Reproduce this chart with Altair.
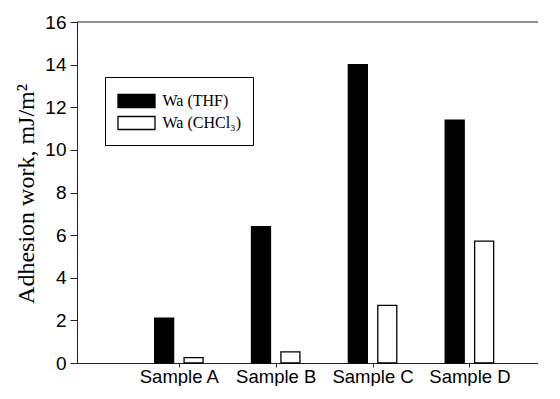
import altair as alt
import pandas as pd

samples = ["Sample A", "Sample B", "Sample C", "Sample D"]
wa_thf = [2.1, 6.4, 14.0, 11.4]
wa_chcl3 = [0.25, 0.52, 2.7, 5.72]
series = ["Wa (THF)", "Wa (CHCl\u2083)"]
y_ticks = [0, 2, 4, 6, 8, 10, 12, 14, 16]

rows = []
for i, s in enumerate(samples):
    rows.append({"sample": s, "idx": i + 1, "series": series[0], "order": 0, "value": wa_thf[i]})
    rows.append({"sample": s, "idx": i + 1, "series": series[1], "order": 1, "value": wa_chcl3[i]})
df = pd.DataFrame(rows)

label_expr = "[" + ",".join("'" + s + "'" for s in samples) + "][datum.value - 1]"

W, H = 461, 341

bars = alt.Chart(df).transform_calculate(
    pos="datum.idx + (datum.order == 0 ? -0.152 : 0.152)"
).mark_bar(size=19, stroke="black", strokeWidth=1.3).encode(
    x=alt.X("pos:Q",
            scale=alt.Scale(domain=[0, W / 99.0], nice=False, zero=False),
            axis=alt.Axis(values=[1, 2, 3, 4], labelExpr=label_expr, title=None,
                          grid=False, tickSize=4, labelPadding=0, labelFontSize=18.5,
                          labelFont="Liberation Sans", labelColor="black",
                          domainColor="#222", tickColor="#222", labelFlush=False)),
    y=alt.Y("value:Q",
            scale=alt.Scale(domain=[0, 16], nice=False),
            axis=alt.Axis(values=y_ticks, title="Adhesion work, mJ/m\u00b2", grid=False,
                          tickSize=7, labelPadding=4, labelFontSize=19,
                          labelFont="Liberation Sans", labelColor="black",
                          domainColor="#222", tickColor="#222",
                          titleFont="Liberation Serif", titleFontSize=24,
                          titleFontWeight="normal", titleColor="black",
                          titleX=-51, titleY=H / 2 + 1, titleAngle=270,
                          titleBaseline="middle", titleAlign="center")),
    fill=alt.Fill("series:N",
                  scale=alt.Scale(domain=series, range=["black", "white"]),
                  legend=alt.Legend(title=None, orient="none", legendX=28, legendY=55,
                                    symbolType="M-1.682,-0.591L1.682,-0.591L1.682,0.591L-1.682,0.591Z",
                                    symbolSize=484, symbolStrokeColor="black",
                                    symbolStrokeWidth=1.3, symbolOffset=7.5,
                                    labelFont="Liberation Serif",
                                    labelFontSize=16, labelColor="black", labelOffset=14,
                                    padding=12, strokeColor="black", fillColor="white",
                                    rowPadding=0)),
)

top_border = alt.Chart(pd.DataFrame({"k": [0]})).mark_rule(color="#222", strokeWidth=1).encode(
    x=alt.value(0), x2=alt.value(W), y=alt.value(0)
)

chart = alt.layer(bars, top_border).properties(
    width=W, height=H,
    autosize=alt.AutoSizeParams(type="none"),
    padding={"left": 69, "top": 14, "right": 0, "bottom": 23},
).configure_view(stroke=None)

chart.save("out.html", embed_options={"renderer": "svg", "actions": False})
